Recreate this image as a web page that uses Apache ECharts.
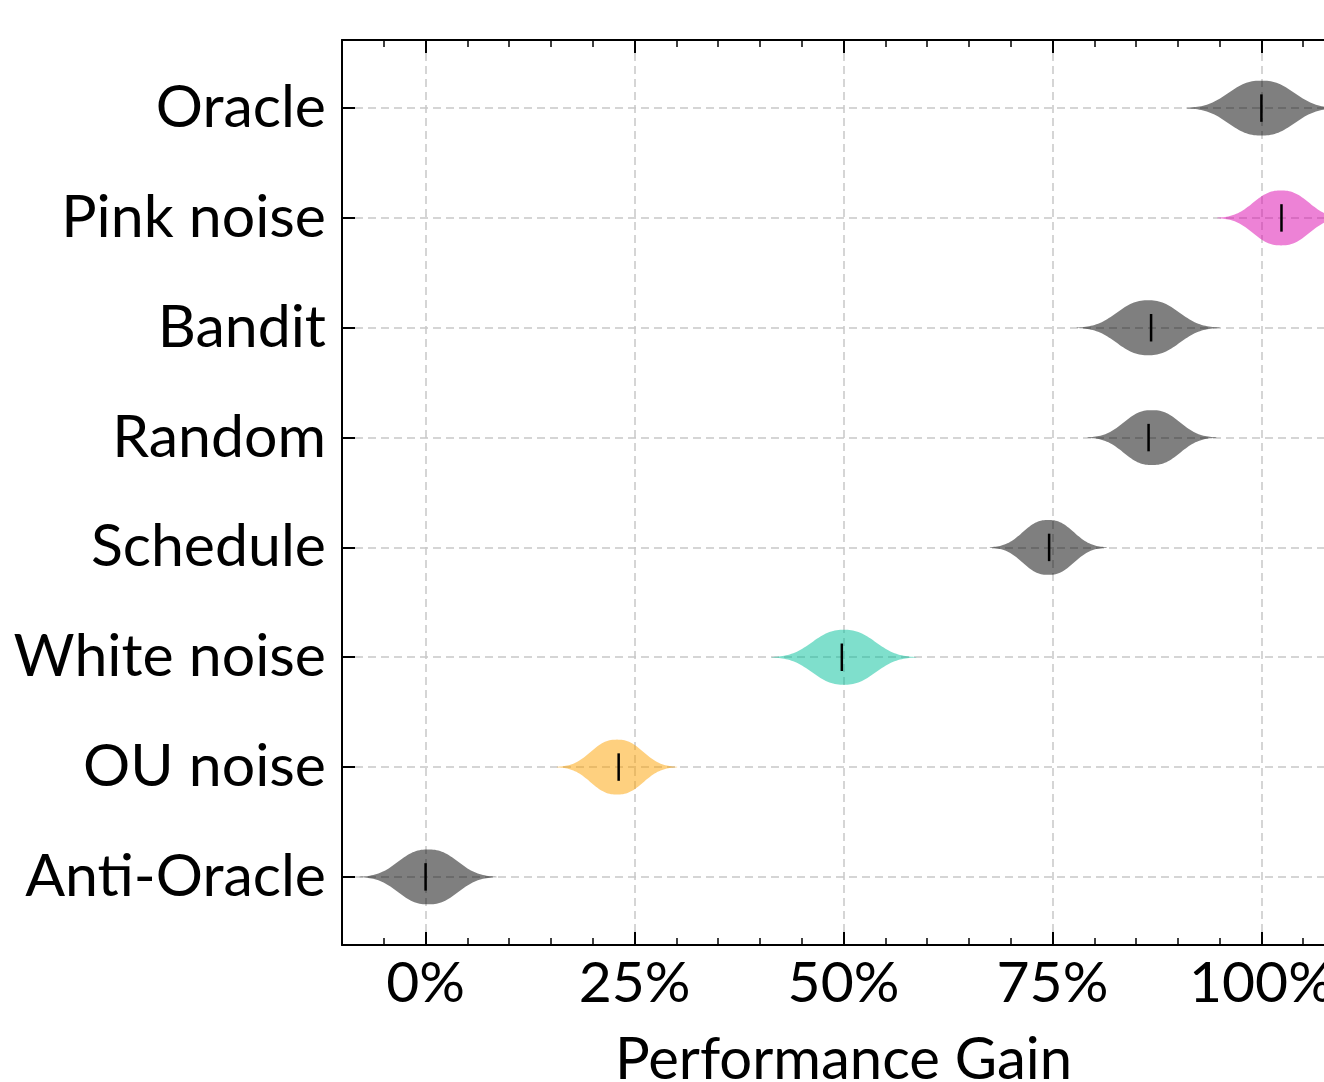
<!DOCTYPE html>
<html>
<head>
<meta charset="utf-8">
<script src="https://cdn.jsdelivr.net/npm/echarts@6/dist/echarts.min.js"></script>
<style>
    html, body { margin: 0; padding: 0; background: #fff; }
    #main { width: 1324px; height: 1082px; }
</style>
</head>
<body>
<div id="main"></div>
<script>
// categories from bottom to top
var methods = ['Anti-Oracle', 'OU noise', 'White noise', 'Schedule', 'Random', 'Bandit', 'Pink noise', 'Oracle'];
// performance gain (%)
var medians = [0, 23.1, 49.8, 74.6, 86.5, 86.8, 102.4, 100];
var lows    = [-7.9, 15.7, 41.4, 67.5, 79.2, 77.9, 94.7, 91.0];
var highs   = [8.5, 30.1, 58.7, 81.5, 94.6, 95.0, 110.0, 109.0];
var xTicks  = [0, 25, 50, 75, 100];

var fillColors = ['#000000', '#fda100', '#00bf99', '#000000', '#000000', '#000000', '#db05ad', '#000000'];
var font = 'Lato';

var violinData = methods.map(function (m, i) {
    return [i, medians[i], lows[i], highs[i]];
});

function renderViolin(params, api) {
    var idx = api.value(0), med = api.value(1), lo = api.value(2), hi = api.value(3);
    var center = (lo + hi) / 2;
    var a = (hi - lo) / 2 * 0.54;
    var top = [], bottom = [];
    var n = 80;
    for (var k = 0; k <= n; k++) {
        var x = lo + (hi - lo) * k / n;
        var h = 0.25 * Math.exp(-Math.pow(Math.abs(x - center) / a, 2.5));
        top.push(api.coord([x, idx + h]));
        bottom.unshift(api.coord([x, idx - h]));
    }
    var p1 = api.coord([med, idx + 0.125]);
    var p2 = api.coord([med, idx - 0.125]);
    return {
        type: 'group',
        children: [{
            type: 'polygon',
            shape: { points: top.concat(bottom) },
            style: { fill: fillColors[params.dataIndex], opacity: 0.5 }
        }, {
            type: 'line',
            shape: { x1: p1[0], y1: p1[1], x2: p2[0], y2: p2[1] },
            style: { stroke: '#000', lineWidth: 2.5 }
        }]
    };
}

var gridLine = { show: true, lineStyle: { color: '#c8c8c8', width: 1.5, type: [8, 5] } };

var myChart = echarts.init(document.getElementById('main'));
var option = {
    animation: false,
    backgroundColor: '#fff',
    grid: { left: 342, top: 40, bottom: 137, right: -21, outerBoundsMode: 'none', containLabel: false },
    xAxis: [{
        type: 'value', position: 'bottom', min: -10, max: 110,
        axisLine: { show: true, onZero: false, lineStyle: { color: '#000', width: 2 } },
        axisTick: { show: true, inside: true, length: 13, customValues: xTicks, lineStyle: { color: '#000', width: 2 } },
        axisLabel: {
            customValues: xTicks, margin: 10,
            formatter: function (v) { return v + '%'; },
            color: '#000', fontSize: 57, fontFamily: font
        },
        splitLine: gridLine,
        name: 'Performance Gain', nameLocation: 'middle', nameGap: 86,
        nameTextStyle: { color: '#000', fontSize: 58, fontFamily: font }
    }, {
        type: 'value', position: 'bottom', min: -10, max: 110, interval: 5,
        axisLine: { show: false, onZero: false },
        axisTick: { show: true, inside: true, length: 7, lineStyle: { color: '#000', width: 1.5 } },
        axisLabel: { show: false },
        splitLine: { show: false }
    }, {
        type: 'value', position: 'top', min: -10, max: 110,
        axisLine: { show: true, onZero: false, lineStyle: { color: '#000', width: 2 } },
        axisTick: { show: true, inside: true, length: 13, customValues: xTicks, lineStyle: { color: '#000', width: 2 } },
        axisLabel: { show: false },
        splitLine: { show: false }
    }, {
        type: 'value', position: 'top', min: -10, max: 110, interval: 5,
        axisLine: { show: false, onZero: false },
        axisTick: { show: true, inside: true, length: 7, lineStyle: { color: '#000', width: 1.5 } },
        axisLabel: { show: false },
        splitLine: { show: false }
    }],
    yAxis: [{
        type: 'value', position: 'left', min: -0.62, max: 7.62,
        axisLine: { show: true, onZero: false, lineStyle: { color: '#000', width: 2 } },
        axisTick: { show: true, inside: true, length: 13, customValues: [0, 1, 2, 3, 4, 5, 6, 7], lineStyle: { color: '#000', width: 2 } },
        axisLabel: {
            customValues: [0, 1, 2, 3, 4, 5, 6, 7], margin: 16,
            formatter: function (v) { return methods[Math.round(v)]; },
            color: '#000', fontSize: 59, fontFamily: font
        },
        splitLine: gridLine
    }],
    series: [{
        type: 'custom',
        xAxisIndex: 0,
        yAxisIndex: 0,
        renderItem: renderViolin,
        encode: { x: [1, 2, 3], y: 0 },
        data: violinData,
        z: 1
    }]
};
myChart.setOption(option);
</script>
</body>
</html>
